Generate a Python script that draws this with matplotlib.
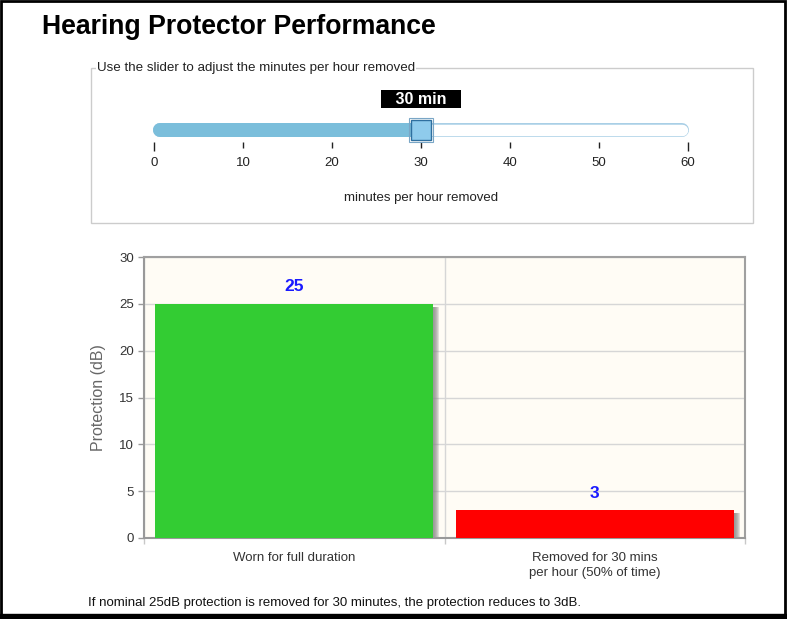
import matplotlib
matplotlib.use("Agg")
import matplotlib.pyplot as plt
from matplotlib.patches import Rectangle

plt.rcParams['font.family'] = ['Liberation Sans', 'DejaVu Sans']

# ---------------------------------------------------------------------------
# Data
# ---------------------------------------------------------------------------
minutes_removed = 30
slider_ticks = [0, 10, 20, 30, 40, 50, 60]
categories = ['Worn for full duration',
              'Removed for 30 mins\nper hour (50% of time)']
protection = [25, 3]
bar_colors = ['#33cc33', '#ff0000']
y_ticks = [0, 5, 10, 15, 20, 25, 30]

W, H = 787, 619
FS = 9.5  # base text size
fig = plt.figure(figsize=(W / 100, H / 100), dpi=100)


def px_axes(x0, y0, x1, y1, **kw):
    # axes from pixel box (top-left origin)
    return fig.add_axes([x0 / W, 1 - y1 / H, (x1 - x0) / W, (y1 - y0) / H], **kw)


# ---------------------------------------------------------------------------
# Overlay: border, title, fieldset, footer
# ---------------------------------------------------------------------------
ov = px_axes(0, 0, W, H)
ov.set_xlim(0, W)
ov.set_ylim(H, 0)
ov.axis('off')
ov.add_patch(Rectangle((1, 1), W - 3, H - 5, fill=False, ec='black', lw=2))
ov.add_patch(Rectangle((0, 614), W, 5, color='black', zorder=5))

ov.text(42, 27, 'Hearing Protector Performance', fontsize=19.2,
        fontweight='bold', va='center', ha='left')

ov.add_patch(Rectangle((91, 68), 662, 155, fill=False, ec='#cccccc', lw=1))
ov.text(97, 68, 'Use the slider to adjust the minutes per hour removed',
        fontsize=9.6, color='#222222', va='center', ha='left',
        bbox=dict(fc='white', ec='none', pad=1))

ov.text(88, 603, 'If nominal 25dB protection is removed for 30 minutes, '
        'the protection reduces to 3dB.', fontsize=FS, color='#111111',
        va='center', ha='left')

# ---------------------------------------------------------------------------
# Slider
# ---------------------------------------------------------------------------
sx0, sx1 = 154, 688
sl = px_axes(sx0, 110, sx1, 142)
sl.set_xlim(0, 60)
sl.set_ylim(0, 1)
sl.set_facecolor('none')
for s in sl.spines.values():
    s.set_visible(False)
sl.set_yticks([])
sl.set_xticks(slider_ticks)
sl.tick_params(axis='x', length=4, width=1, color='#222222', pad=7,
               labelsize=FS, labelcolor='#222222')
for i in (0, len(slider_ticks) - 1):
    sl.xaxis.get_major_ticks()[i].tick1line.set_markersize(6.5)
sl.set_xlabel('minutes per hour removed', fontsize=FS, color='#222222',
              labelpad=16)

ty = 0.375
track_px = 14
cap = (track_px / 2 - 1) / ((sx1 - sx0) / 60.0)  # round-cap inset, data units
lo, hi = slider_ticks[0] + cap, slider_ticks[-1] - cap
sl.plot([lo, hi], [ty, ty], color='#a9cfe6', lw=track_px * 0.72,
        solid_capstyle='round', clip_on=False, zorder=1)
sl.plot([lo, hi], [ty, ty], color='white', lw=(track_px - 2.5) * 0.72,
        solid_capstyle='round', clip_on=False, zorder=2)
sl.plot([lo, minutes_removed], [ty, ty], color='#7bbedb', lw=track_px * 0.72,
        solid_capstyle='round', clip_on=False, zorder=3)
sl.plot([minutes_removed], [ty], marker='s', ms=17.5, mfc='none',
        mec='#7aa6c6', mew=0.8, ls='none', clip_on=False, zorder=4)
sl.plot([minutes_removed], [ty], marker='s', ms=15, mfc='#8fcbec',
        mec='#2f6f9f', mew=1.0, ls='none', clip_on=False, zorder=5)
sl.text(minutes_removed, 1.34, '   %d min   ' % minutes_removed,
        ha='center', va='center', fontsize=11.5, fontweight='bold',
        color='white', bbox=dict(boxstyle='square,pad=0.08', fc='black',
                                  ec='none'), clip_on=False)

# ---------------------------------------------------------------------------
# Bar chart
# ---------------------------------------------------------------------------
ax = px_axes(144, 257, 745, 538)
ax.set_facecolor('#fffcf5')
xs = list(range(len(categories)))
bw = 0.925
upx = len(categories) / (745 - 144)  # data units per pixel on x
upy = 30 / (538 - 257)                # data units per pixel on y

# soft shadow on the right side of each bar
for k in range(6):
    off = upx * (1 + k)
    ax.bar([x + off for x in xs], [v - 3 * upy for v in protection], width=bw,
           bottom=0, color='#888888', alpha=0.25, zorder=2, lw=0)
ax.bar(xs, protection, width=bw, color=bar_colors, zorder=3, lw=0)

for x, v in zip(xs, protection):
    ax.text(x, v + 1.0, str(v), ha='center', va='bottom', fontsize=12.5,
            fontweight='bold', color='#1a1aff', zorder=4)

ax.set_xlim(-0.5, len(categories) - 0.5)
ax.set_ylim(0, 30)
ax.set_yticks(y_ticks)
ax.set_xticks([x - 0.5 for x in xs] + [len(xs) - 0.5])
ax.set_xticklabels([])
ax.set_xticks(xs, minor=True)
ax.set_xticklabels(categories, minor=True, linespacing=1.3)
ax.tick_params(axis='x', which='minor', length=0, pad=10, labelsize=FS,
               labelcolor='#333333')
ax.tick_params(axis='x', which='major', length=4, color='#c8c8c8', width=1)
ax.tick_params(axis='y', length=4, color='#999999', width=1, labelsize=FS,
               labelcolor='#333333', pad=3)
ax.grid(True, which='major', color='#d6d6d6', lw=1, zorder=0)
ax.set_axisbelow(True)
ax.set_ylabel('Protection (dB)', fontsize=11.5, color='#666666', labelpad=10)

for side in ('left', 'bottom'):
    ax.spines[side].set_color('#999999')
    ax.spines[side].set_linewidth(1.5)
for side in ('top', 'right'):
    ax.spines[side].set_color('#a0a0a0')
    ax.spines[side].set_linewidth(1.5)

fig.savefig('out.png', dpi=100)
